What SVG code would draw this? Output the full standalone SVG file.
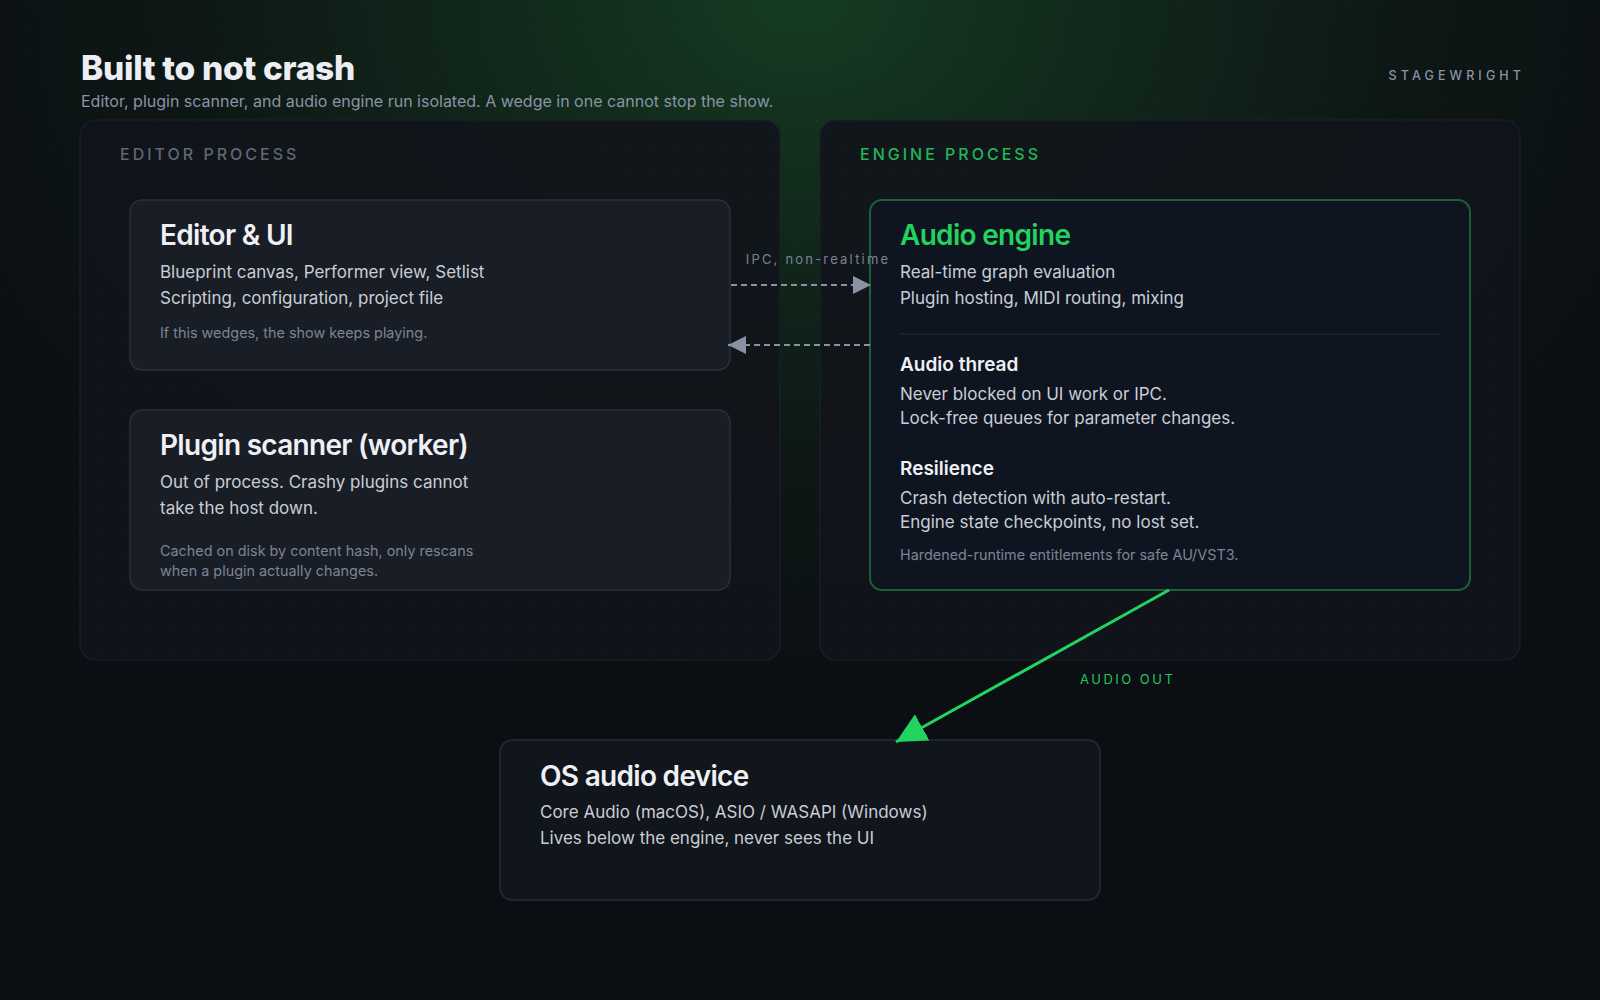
<svg xmlns="http://www.w3.org/2000/svg" width="1600" height="1000" viewBox="0 0 1600 1000">
  <defs>
    <radialGradient id="glow" cx="800" cy="0" r="950" gradientUnits="userSpaceOnUse" gradientTransform="translate(800 0) scale(1 0.75) translate(-800 0)">
      <stop offset="0" stop-color="#163b21"/>
      <stop offset="0.3" stop-color="#11291b"/>
      <stop offset="0.65" stop-color="#0d1715"/>
      <stop offset="1" stop-color="#0b0e12"/>
    </radialGradient>
    <pattern id="dots" x="0" y="0" width="24" height="24" patternUnits="userSpaceOnUse">
      <circle cx="0.75" cy="0.75" r="0.75" fill="#ffffff" fill-opacity="0.045"/>
    </pattern>
    <marker id="arrGrey" viewBox="0 0 10 10" refX="10" refY="5" markerWidth="10" markerHeight="10" markerUnits="strokeWidth" orient="auto">
      <path d="M0,0 L10,5 L0,10 z" fill="#8a93a5"/>
    </marker>
    <marker id="arrGreen" viewBox="0 0 10 10" refX="10" refY="5" markerWidth="10" markerHeight="10" markerUnits="strokeWidth" orient="auto">
      <path d="M0,0 L10,5 L0,10 z" fill="#22d35f"/>
    </marker>
    <style>
      text { font-family: Inter, "Noto Sans", "Liberation Sans", sans-serif; }
      .h1 { font-size: 33.5px; font-weight: 800; fill: #eceef3; letter-spacing: -0.3px; }
      .sub { font-size: 16px; fill: #8a93a6; }
      .brand { font-size: 12.5px; font-weight: 500; fill: #8a93a6; letter-spacing: 4.1px; }
      .panel { fill: #11151b; fill-opacity: 0.92; stroke: #1c222b; stroke-width: 1.2; }
      .plabel { font-size: 16px; font-weight: 500; letter-spacing: 3px; }
      .node { fill: #191d26; stroke: #2a303b; stroke-width: 1.5; }
      .engine { fill: #0f1520; stroke: #1e5f37; stroke-width: 2; }
      .os { fill: #11151c; stroke: #272d38; stroke-width: 1.5; }
      .title { font-size: 28px; font-weight: 600; fill: #eef0f4; letter-spacing: -0.7px; }
      .body { font-size: 17px; fill: #c9cdd5; }
      .small { font-size: 14.4px; fill: #7b8494; }
      .sec { font-size: 19px; font-weight: 600; fill: #eef0f4; }
      .ipc { fill: none; stroke: #8a93a5; stroke-width: 1.8; stroke-dasharray: 6 4; }
      .elabel { font-size: 13px; letter-spacing: 2.2px; }
    </style>
  </defs>

  <rect width="1600" height="1000" fill="#0b0e12"/>
  <rect width="1600" height="1000" fill="url(#glow)"/>
  <rect width="1600" height="1000" fill="url(#dots)"/>

  <g id="header">
    <text x="81" y="80" class="h1">Built to not crash</text>
    <text x="81" y="107" class="sub">Editor, plugin scanner, and audio engine run isolated. A wedge in one cannot stop the show.</text>
    <text x="1525" y="80" class="brand" text-anchor="end">STAGEWRIGHT</text>
  </g>

  <g id="editor-process">
    <rect x="80" y="120" width="700" height="540" rx="16" class="panel"/>
    <text x="120" y="160" class="plabel" fill="#5f6876">EDITOR PROCESS</text>
  </g>

  <g id="engine-process">
    <rect x="820" y="120" width="700" height="540" rx="16" class="panel"/>
    <text x="860" y="160" class="plabel" fill="#22b657">ENGINE PROCESS</text>
  </g>

  <g id="editor-ui">
    <rect x="130" y="200" width="600" height="170" rx="12" class="node"/>
    <text x="160" y="245" class="title">Editor &amp; UI</text>
    <text x="160" y="278" class="body">Blueprint canvas, Performer view, Setlist</text>
    <text x="160" y="304" class="body">Scripting, configuration, project file</text>
    <text x="160" y="338" class="small">If this wedges, the show keeps playing.</text>
  </g>

  <g id="plugin-scanner">
    <rect x="130" y="410" width="600" height="180" rx="12" class="node"/>
    <text x="160" y="455" class="title">Plugin scanner (worker)</text>
    <text x="160" y="488" class="body">Out of process. Crashy plugins cannot</text>
    <text x="160" y="514" class="body">take the host down.</text>
    <text x="160" y="556" class="small">Cached on disk by content hash, only rescans</text>
    <text x="160" y="576" class="small">when a plugin actually changes.</text>
  </g>

  <g id="audio-engine">
    <rect x="870" y="200" width="600" height="390" rx="12" class="engine"/>
    <text x="900" y="245" class="title" style="fill:#22d35f">Audio engine</text>
    <text x="900" y="278" class="body">Real-time graph evaluation</text>
    <text x="900" y="304" class="body">Plugin hosting, MIDI routing, mixing</text>
    <line x1="900" y1="334" x2="1440" y2="334" stroke="#1d2631" stroke-width="1.5"/>
    <text x="900" y="371" class="sec">Audio thread</text>
    <text x="900" y="400" class="body">Never blocked on UI work or IPC.</text>
    <text x="900" y="424" class="body">Lock-free queues for parameter changes.</text>
    <text x="900" y="475" class="sec">Resilience</text>
    <text x="900" y="504" class="body">Crash detection with auto-restart.</text>
    <text x="900" y="528" class="body">Engine state checkpoints, no lost set.</text>
    <text x="900" y="560" class="small">Hardened-runtime entitlements for safe AU/VST3.</text>
  </g>

  <g id="os-audio-device">
    <rect x="500" y="740" width="600" height="160" rx="12" class="os"/>
    <text x="540" y="786" class="title">OS audio device</text>
    <text x="540" y="818" class="body">Core Audio (macOS), ASIO / WASAPI (Windows)</text>
    <text x="540" y="844" class="body">Lives below the engine, never sees the UI</text>
  </g>

  <g id="connectors">
    <line x1="731" y1="285" x2="871" y2="285" class="ipc" marker-end="url(#arrGrey)"/>
    <text x="818" y="264" class="elabel" fill="#7a8394" text-anchor="middle">IPC, non-realtime</text>
    <line x1="870" y1="345" x2="728" y2="345" class="ipc" marker-end="url(#arrGrey)"/>
    <line x1="1169" y1="590" x2="896" y2="742" stroke="#22d35f" stroke-width="3" marker-end="url(#arrGreen)"/>
    <text x="1080" y="684" class="elabel" fill="#22c55e" style="letter-spacing:2.5px">AUDIO OUT</text>
  </g>
</svg>
